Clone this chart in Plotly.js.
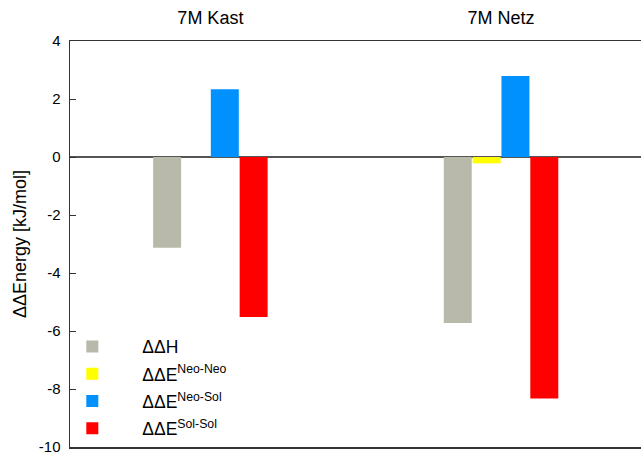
<!DOCTYPE html>
<html><head><meta charset="utf-8">
<script src="https://cdn.plot.ly/plotly-3.0.1.min.js"></script>
<style>html,body{margin:0;padding:0;background:#fff}</style>
</head><body><div id="chart" style="width:641px;height:454px"></div>
<script>
const categories = ["7M Kast", "7M Netz"];
const seriesNames = ["ΔΔH", "ΔΔE<sup>Neo-Neo</sup>", "ΔΔE<sup>Neo-Sol</sup>", "ΔΔE<sup>Sol-Sol</sup>"];
const dH = [-3.13, -5.72];
const dENeoNeo = [0.0, -0.22];
const dENeoSol = [2.34, 2.79];
const dESolSol = [-5.52, -8.33];
const colors = ["#b9b9ab", "#ffff00", "#0091ff", "#ff0000"];
const yTicks = [-10, -8, -6, -4, -2, 0, 2, 4];
const yTickLabels = ["-10", "-8", "-6", "-4", "-2", "0", "2", "4"];
const yTitle = "ΔΔEnergy [kJ/mol]";

const values = [dH, dENeoNeo, dENeoSol, dESolSol];
const traces = values.map((v, i) => ({
  type: "bar", x: categories, y: v, name: seriesNames[i],
  legendgroup: "g" + i,
  marker: {color: colors[i], line: {width: 0}}
}));

const layout = {
  width: 641, height: 454,
  margin: {l: 70, r: 0, t: 41, b: 7, autoexpand: false},
  paper_bgcolor: "#fff", plot_bgcolor: "#fff",
  font: {family: "Liberation Sans, Arial, sans-serif", color: "#000"},
  barmode: "group", bargap: 0.603, bargroupgap: 0.03,
  showlegend: true,
  legend: {xref: "container", yref: "container", x: 0.066, y: 0.276, xanchor: "left", yanchor: "top",
           itemwidth: 90, tracegroupgap: 1.5, font: {size: 17.5}, bgcolor: "rgba(0,0,0,0)", traceorder: "grouped"},
  xaxis: {type: "category", side: "top", range: [-0.483, 1.4816], showline: true, mirror: true,
          linecolor: "#333", linewidth: 1.5, ticks: "", showgrid: false, tickfont: {size: 18}, ticklabelstandoff: 8},
  yaxis: {range: [-10, 4], tickvals: yTicks, ticktext: yTickLabels, ticks: "inside", ticklen: 6, tickcolor: "#333",
          showline: true, linecolor: "#333", linewidth: 1.5, showgrid: false,
          zeroline: true, zerolinecolor: "#555", zerolinewidth: 1.5,
          tickfont: {size: 15}, ticklabelstandoff: 5, ticklabeloverflow: "allow"},
  annotations: [{text: yTitle, textangle: -90, xref: "paper", yref: "paper", x: -0.0876, y: 0.5,
                 xanchor: "center", yanchor: "middle", showarrow: false, font: {size: 18}}]
};
Plotly.newPlot("chart", traces, layout, {displayModeBar: false, staticPlot: true});
</script></body></html>
